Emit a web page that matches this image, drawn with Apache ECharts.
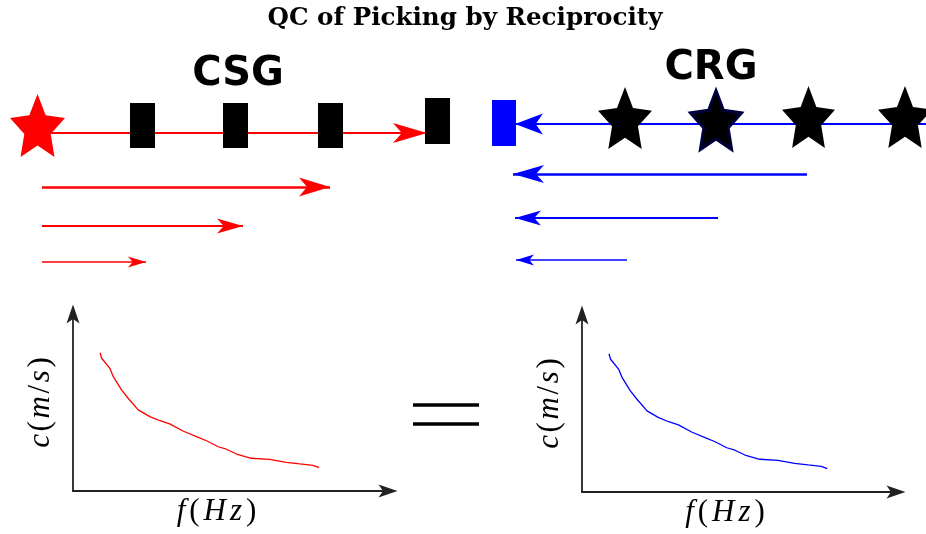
<!DOCTYPE html>
<html><head><meta charset="utf-8">
<script src="https://cdn.jsdelivr.net/npm/echarts@6/dist/echarts.min.js"></script>
<style>html,body{margin:0;padding:0;background:#fff}#c{width:926px;height:534px}</style>
</head><body><div id="c"></div>
<script>
// ---- diagram geometry (overlay units) ----
const csgSource = [[37.5, 125.5]];
const csgReceivers = [[142.5, 125.5], [235.5, 125.5], [330.5, 125.5], [437.5, 121]];
const crgReceiver = [[504, 123]];
const crgSources = [[625, 118], [716, 120], [808.5, 117], [905, 117]];
const csgRays = [[[38, 133], [427, 133]], [[42, 187], [330, 187]], [[42, 226], [243, 226]], [[42, 262], [146, 262]]];
const crgRays = [[[926, 124], [515, 124]], [[807, 174], [513, 174]], [[718, 218], [515, 218]], [[627, 260], [516, 260]]];
const equalsBars = [[[413, 404.5], [479, 404.5]], [[413, 423.5], [479, 423.5]]];

// ---- dispersion curves (arbitrary units) ----
const freqHz = [8.6, 9.1, 11.7, 12.8, 15.4, 17.5, 20.7, 24.4, 27.6, 30.7, 34.9, 39.2, 42.4, 46.1, 48.7, 51.9, 56.6, 62.4, 67.7, 72.0, 76.2, 78.1];
const csgVelocity = [78.1, 75.0, 69.3, 64.6, 57.1, 52.4, 45.8, 42.0, 39.7, 37.9, 33.9, 30.7, 28.4, 25.0, 23.6, 20.9, 18.5, 17.9, 16.2, 15.3, 14.5, 13.2];
const crgVelocity = [78.1, 75.0, 69.3, 64.6, 57.1, 52.4, 45.8, 42.0, 39.7, 37.9, 33.9, 30.7, 28.4, 25.0, 23.6, 20.9, 18.5, 17.9, 16.2, 15.3, 14.5, 13.2];

// ---- styles ----
const RED = '#ff0000', BLUE = '#0000ff';
const rayWidths = [2.2, 2.5, 2.0, 1.5];
const csgHeads = [[34, 20], [31, 19], [26, 15], [18, 11]];
const crgHeads = [[28, 21], [31, 18], [26, 15], [18, 11]];
const starSizes = [[54, 62], [51, 59], [53, 62], [54, 62]];

function starPath(inner) {
  let d = '';
  for (let k = 0; k < 10; k++) {
    const a = (-90 + 36 * k) * Math.PI / 180;
    const r = k % 2 ? inner : 1;
    d += (k ? 'L' : 'M') + (100 + 100 * r * Math.cos(a)).toFixed(2) + ',' + (100 + 100 * r * Math.sin(a)).toFixed(2);
  }
  return 'path://' + d + 'Z';
}
const STAR = starPath(0.48);
const HEAD_R = 'path://M0,0L100,50L0,100L26,50Z';
const HEAD_L = 'path://M100,0L0,50L100,100L74,50Z';
const HEAD_UP = 'path://M6.5,0L13,19L6.5,14.5L0,19Z';

const rayData = [];
const headData = [];
csgRays.forEach((r, i) => {
  rayData.push({ coords: r, lineStyle: { color: RED, width: rayWidths[i], opacity: 1 } });
  const [L, W] = csgHeads[i];
  headData.push({ value: r[1], symbol: HEAD_R, symbolSize: [L, W], symbolOffset: [-L / 2, 0], itemStyle: { color: RED, opacity: 1 } });
});
crgRays.forEach((r, i) => {
  rayData.push({ coords: r, lineStyle: { color: BLUE, width: rayWidths[i], opacity: 1 } });
  const [L, W] = crgHeads[i];
  headData.push({ value: r[1], symbol: HEAD_L, symbolSize: [L, W], symbolOffset: [L / 2, 0], itemStyle: { color: BLUE, opacity: 1 } });
});
equalsBars.forEach(b => rayData.push({ coords: b, lineStyle: { color: '#000', width: 3.5, opacity: 1 } }));

const mathI = { fontFamily: 'Liberation Serif', fontStyle: 'italic', fontSize: 31, color: '#000', padding: [0, 2] };
const mathU = { fontFamily: 'Liberation Serif', fontSize: 31, color: '#000', padding: [0, 2] };
const mathIy = Object.assign({}, mathI, { padding: [0, 1.3] });
const mathUy = Object.assign({}, mathU, { padding: [0, 1.3] });

function plotAxes(gi) {
  const line = { show: true, onZero: false, symbol: ['none', HEAD_UP], symbolSize: [13, 19], lineStyle: { color: '#222', width: 1.8 } };
  return {
    x: { gridIndex: gi, type: 'value', min: 0, max: 100, axisLine: line, axisTick: { show: false }, axisLabel: { show: false }, splitLine: { show: false },
      name: '{i|f}{u|(}{i|H}{i|z}{u|)}', nameLocation: 'middle', nameGap: 5,
      nameTextStyle: { verticalAlign: 'top', padding: [0, 28, 0, 0], rich: { i: mathI, u: mathU } } },
    y: { gridIndex: gi, type: 'value', min: 0, max: 100, axisLine: line, axisTick: { show: false }, axisLabel: { show: false }, splitLine: { show: false },
      name: '{i|c}{u|(}{i|m}{u|/}{i|s}{u|)}', nameLocation: 'middle', nameGap: 17, nameRotate: 90,
      nameTextStyle: { rich: { i: mathIy, u: mathUy } } }
  };
}
const pA = plotAxes(1), pB = plotAxes(2);

const chart = echarts.init(document.getElementById('c'), null, { renderer: 'canvas' });
chart.setOption({
  animation: false,
  backgroundColor: '#fff',
  grid: [
    { left: 0, top: 0, width: 926, height: 534, containLabel: false },
    { left: 73, top: 314, width: 315, height: 177, containLabel: false },
    { left: 582, top: 315, width: 314, height: 177, containLabel: false }
  ],
  xAxis: [
    { gridIndex: 0, type: 'value', min: 0, max: 926, show: false },
    pA.x, pB.x
  ],
  yAxis: [
    { gridIndex: 0, type: 'value', min: 0, max: 534, inverse: true, show: false },
    pA.y, pB.y
  ],
  graphic: [
    { type: 'text', x: 465, y: 19, z: 10, style: { text: 'QC of Picking by Reciprocity', font: 'bold 24.6px "DejaVu Serif"', fill: '#000', align: 'center', textAlign: 'center', verticalAlign: 'middle', textVerticalAlign: 'middle' } },
    { type: 'text', x: 238, y: 75, z: 10, style: { text: 'CSG', font: 'bold 40px "DejaVu Sans"', fill: '#000', align: 'center', textAlign: 'center', verticalAlign: 'middle', textVerticalAlign: 'middle' } },
    { type: 'text', x: 711, y: 69, z: 10, style: { text: 'CRG', font: 'bold 40px "DejaVu Sans"', fill: '#000', align: 'center', textAlign: 'center', verticalAlign: 'middle', textVerticalAlign: 'middle' } }
  ],
  series: [
    { type: 'lines', coordinateSystem: 'cartesian2d', xAxisIndex: 0, yAxisIndex: 0, z: 2, silent: true, lineStyle: { opacity: 1 }, data: rayData },
    { type: 'scatter', xAxisIndex: 0, yAxisIndex: 0, z: 3, silent: true, itemStyle: { opacity: 1 }, data: headData },
    { type: 'scatter', xAxisIndex: 0, yAxisIndex: 0, z: 4, silent: true, symbol: STAR, symbolSize: [55, 63], itemStyle: { color: RED, opacity: 1 }, data: csgSource },
    { type: 'scatter', xAxisIndex: 0, yAxisIndex: 0, z: 4, silent: true, symbol: 'rect',
      data: csgReceivers.map((p, i) => ({ value: p, symbolSize: i === 3 ? [25, 46] : [25, 45] })), itemStyle: { color: '#000', opacity: 1 } },
    { type: 'scatter', xAxisIndex: 0, yAxisIndex: 0, z: 4, silent: true, symbol: 'rect', symbolSize: [24, 46], itemStyle: { color: BLUE, opacity: 1 }, data: crgReceiver },
    { type: 'scatter', xAxisIndex: 0, yAxisIndex: 0, z: 4, silent: true, symbol: STAR,
      data: crgSources.map((p, i) => ({ value: p, symbolSize: starSizes[i],
        itemStyle: i === 1 ? { color: '#000', borderColor: '#00003a', borderWidth: 3, opacity: 1 } : { color: '#000', opacity: 1 } })) },
    { type: 'line', xAxisIndex: 1, yAxisIndex: 1, showSymbol: false, silent: true, lineStyle: { color: RED, width: 1.3 },
      data: freqHz.map((f, i) => [f, csgVelocity[i]]) },
    { type: 'line', xAxisIndex: 2, yAxisIndex: 2, showSymbol: false, silent: true, lineStyle: { color: BLUE, width: 1.3 },
      data: freqHz.map((f, i) => [f, crgVelocity[i]]) }
  ]
});
</script></body></html>
